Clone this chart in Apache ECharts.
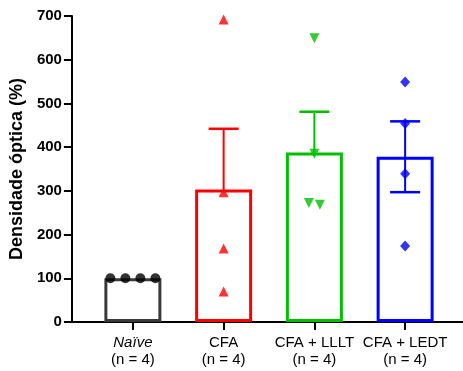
<!DOCTYPE html>
<html>
<head>
<meta charset="utf-8">
<script src="https://cdn.jsdelivr.net/npm/echarts@6/dist/echarts.min.js"></script>
<style>
html,body{margin:0;padding:0;background:#fff;}
#chart{width:463px;height:371px;}
</style>
</head>
<body>
<div id="chart"></div>
<script>
// ---- data ----
var categories = ['Naïve', 'CFA', 'CFA + LLLT', 'CFA + LEDT'];
var nLabels = ['(n = 4)', '(n = 4)', '(n = 4)', '(n = 4)'];
var means = [100, 303, 388, 378];
var sem = [0, 139, 93, 81];
var showLowerErr = [false, false, false, true];
var naivePts = [100, 100, 100, 100];
var cfaPts = [692, 297, 168, 70];
var llltPts = [649, 385, 272, 268];
var ledtPts = [549, 454, 339, 174];
var yTicks = [0, 100, 200, 300, 400, 500, 600, 700];

// ---- style ----
var groupColors = ['#3a3a3a', '#ff0000', '#00c000', '#0000ff'];
var pointColors = ['#000000', '#ff0000', '#00c000', '#0000ff'];
var FONT = '"Liberation Sans", Arial, sans-serif';

var chart = echarts.init(document.getElementById('chart'), null, {renderer: 'canvas'});

function ptsData(idx, arr, offsets) {
  return arr.map(function (v, i) {
    var d = {value: [idx, v]};
    if (offsets) d.symbolOffset = [offsets[i], 0];
    return d;
  });
}

var errData = means.map(function (m, i) {
  return [i, showLowerErr[i] ? m - sem[i] : m, m + sem[i]];
});

var option = {
  animation: false,
  backgroundColor: '#ffffff',
  grid: [
    {left: 87.5, right: 12.5, top: 16, bottom: 49},
    {left: 71, right: 0, top: 16, bottom: 49}
  ],
  xAxis: [
    {
      type: 'category', gridIndex: 0, data: categories,
      axisLine: {show: false},
      axisTick: {show: true, alignWithLabel: true, length: 8, lineStyle: {color: '#000', width: 2}},
      axisLabel: {
        margin: 12, interval: 0, hideOverlap: false,
        formatter: function (v, i) {
          var first = i === 0 ? '{it|' + v + '}' : '{t|' + v + '}';
          return first + '\n{t|' + nLabels[i] + '}';
        },
        rich: {
          it: {fontFamily: FONT, fontSize: 15, fontStyle: 'italic', color: '#000', lineHeight: 17},
          t: {fontFamily: FONT, fontSize: 15, color: '#000', lineHeight: 17}
        }
      },
      splitLine: {show: false}
    },
    {
      type: 'value', gridIndex: 1, min: 0, max: 1,
      axisLine: {show: true, lineStyle: {color: '#000', width: 2}},
      axisTick: {show: false}, axisLabel: {show: false}, splitLine: {show: false}
    }
  ],
  yAxis: [
    {type: 'value', gridIndex: 0, min: 0, max: 700, interval: 100, show: false},
    {
      type: 'value', gridIndex: 1, min: yTicks[0], max: yTicks[yTicks.length - 1], interval: 100,
      name: 'Densidade óptica (%)', nameLocation: 'middle', nameGap: 37,
      nameTextStyle: {fontFamily: FONT, fontSize: 18, fontWeight: 'bold', color: '#000'},
      axisLine: {show: true, lineStyle: {color: '#000', width: 2}},
      axisTick: {show: true, length: 8, lineStyle: {color: '#000', width: 2}},
      axisLabel: {margin: 10, fontFamily: FONT, fontSize: 15, fontWeight: 'bold', color: '#000'},
      splitLine: {show: false}
    }
  ],
  series: [
    {
      type: 'bar', xAxisIndex: 0, yAxisIndex: 0, barWidth: 57, z: 2,
      data: means.map(function (m, i) {
        return {value: m, itemStyle: {color: 'rgba(0,0,0,0)', borderColor: groupColors[i], borderWidth: 3}};
      })
    },
    {
      type: 'custom', xAxisIndex: 0, yAxisIndex: 0, z: 3,
      data: errData,
      renderItem: function (params, api) {
        var i = api.value(0);
        var lo = api.coord([i, api.value(1)]);
        var hi = api.coord([i, api.value(2)]);
        var c = groupColors[i];
        var half = 15;
        var children = [];
        if (hi[1] === lo[1]) return {type: 'group', children: []};
        children.push({type: 'line', shape: {x1: hi[0], y1: lo[1], x2: hi[0], y2: hi[1]}, style: {stroke: c, lineWidth: 2}});
        children.push({type: 'line', shape: {x1: hi[0] - half, y1: hi[1], x2: hi[0] + half, y2: hi[1]}, style: {stroke: c, lineWidth: 2.5}});
        if (showLowerErr[i]) {
          children.push({type: 'line', shape: {x1: lo[0] - half, y1: lo[1], x2: lo[0] + half, y2: lo[1]}, style: {stroke: c, lineWidth: 2.5}});
        }
        return {type: 'group', children: children};
      }
    },
    {
      type: 'scatter', xAxisIndex: 0, yAxisIndex: 0, z: 4,
      symbol: 'circle', symbolSize: 10, itemStyle: {color: pointColors[0]},
      data: ptsData(0, naivePts, [-22.5, -7.5, 7.5, 22.5])
    },
    {
      type: 'scatter', xAxisIndex: 0, yAxisIndex: 0, z: 4,
      symbol: 'triangle', symbolSize: [10, 10], itemStyle: {color: pointColors[1]},
      data: ptsData(1, cfaPts)
    },
    {
      type: 'scatter', xAxisIndex: 0, yAxisIndex: 0, z: 4,
      symbol: 'triangle', symbolRotate: 180, symbolSize: [10, 10], itemStyle: {color: pointColors[2]},
      data: ptsData(2, llltPts, [0, 0, -5.5, 5.5])
    },
    {
      type: 'scatter', xAxisIndex: 0, yAxisIndex: 0, z: 4,
      symbol: 'diamond', symbolSize: [10, 11], itemStyle: {color: pointColors[3]},
      data: ptsData(3, ledtPts)
    }
  ]
};
chart.setOption(option);
</script>
</body>
</html>
